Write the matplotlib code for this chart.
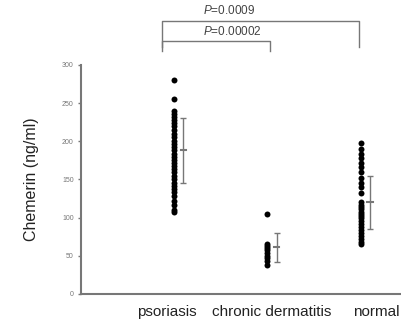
import matplotlib.pyplot as plt
import numpy as np

plt.rcParams['font.family'] = ['Liberation Sans', 'DejaVu Sans']
plt.rcParams['mathtext.fontset'] = 'custom'
plt.rcParams['mathtext.it'] = 'Liberation Sans:italic'
plt.rcParams['mathtext.rm'] = 'Liberation Sans'

groups = ['psoriasis', 'chronic dermatitis', 'normal']

psoriasis = [280, 256, 240, 236, 232, 228, 224, 220, 215, 210, 205, 200, 196,
             192, 188, 184, 180, 176, 172, 168, 164, 160, 155, 150, 146, 142,
             138, 133, 128, 122, 116, 110, 107]
dermatitis = [105, 66, 63, 60, 57, 54, 50, 47, 43, 38]
normal = [198, 190, 184, 178, 172, 166, 160, 152, 146, 140, 132, 120, 117, 114,
          111, 108, 105, 102, 99, 96, 92, 88, 84, 80, 76, 72, 68, 65]

means = [188, 61, 120]
sds = [42, 19, 35]

p_labels = ['P=0.0009', 'P=0.00002']

grey = '#777777'

fig = plt.figure(figsize=(4.02, 3.31), dpi=100)
ax = fig.add_axes([0.2007, 0.1118, 0.794, 0.692])

for i, vals in enumerate([psoriasis, dermatitis, normal]):
    x = i + 1
    ax.plot([x] * len(vals), vals, 'o', color='black', markersize=4.3,
            markeredgewidth=0)
    ax.errorbar(x + 0.1, means[i], yerr=sds[i], color=grey, capsize=2.5,
                elinewidth=1, capthick=1)
    ax.plot([x + 0.07, x + 0.13], [means[i], means[i]], color=grey, lw=1.5)

ax.set_xlim(0, 3.42)
ax.set_ylim(0, 300)
ax.set_yticks([0, 50, 100, 150, 200, 250, 300])
ax.tick_params(axis='y', labelsize=5, colors=grey, length=2, width=1,
               pad=3)
ax.tick_params(axis='x', bottom=False, labelbottom=False)
for s in ['top', 'right']:
    ax.spines[s].set_visible(False)
for s in ['left', 'bottom']:
    ax.spines[s].set_color(grey)
    ax.spines[s].set_linewidth(1.5)

# category labels
for xc, name in zip([0.923, 2.046, 3.17], groups):
    ax.text(xc, -23.6, name, ha='center', va='center', fontsize=11,
            color='#222222', clip_on=False)

ax.text(-0.53, 150, 'Chemerin (ng/ml)', rotation=90, ha='center',
        va='center', fontsize=11.5, color='#222222', clip_on=False)

# significance brackets
ax.plot([0.87, 0.87, 2.977, 2.977], [323.6, 357.6, 357.6, 323.6],
        color=grey, lw=1, clip_on=False)
ax.plot([0.87, 0.87, 2.025, 2.025], [318.3, 331.4, 331.4, 318.3],
        color=grey, lw=1, clip_on=False)
for yy, lab in zip([370.7, 343.2], p_labels):
    ax.text(1.309, yy, '$\\it{P}$' + lab[1:], ha='left', va='center',
            fontsize=8.5, color='#444444', clip_on=False)

fig.savefig('out.png', dpi=100)
